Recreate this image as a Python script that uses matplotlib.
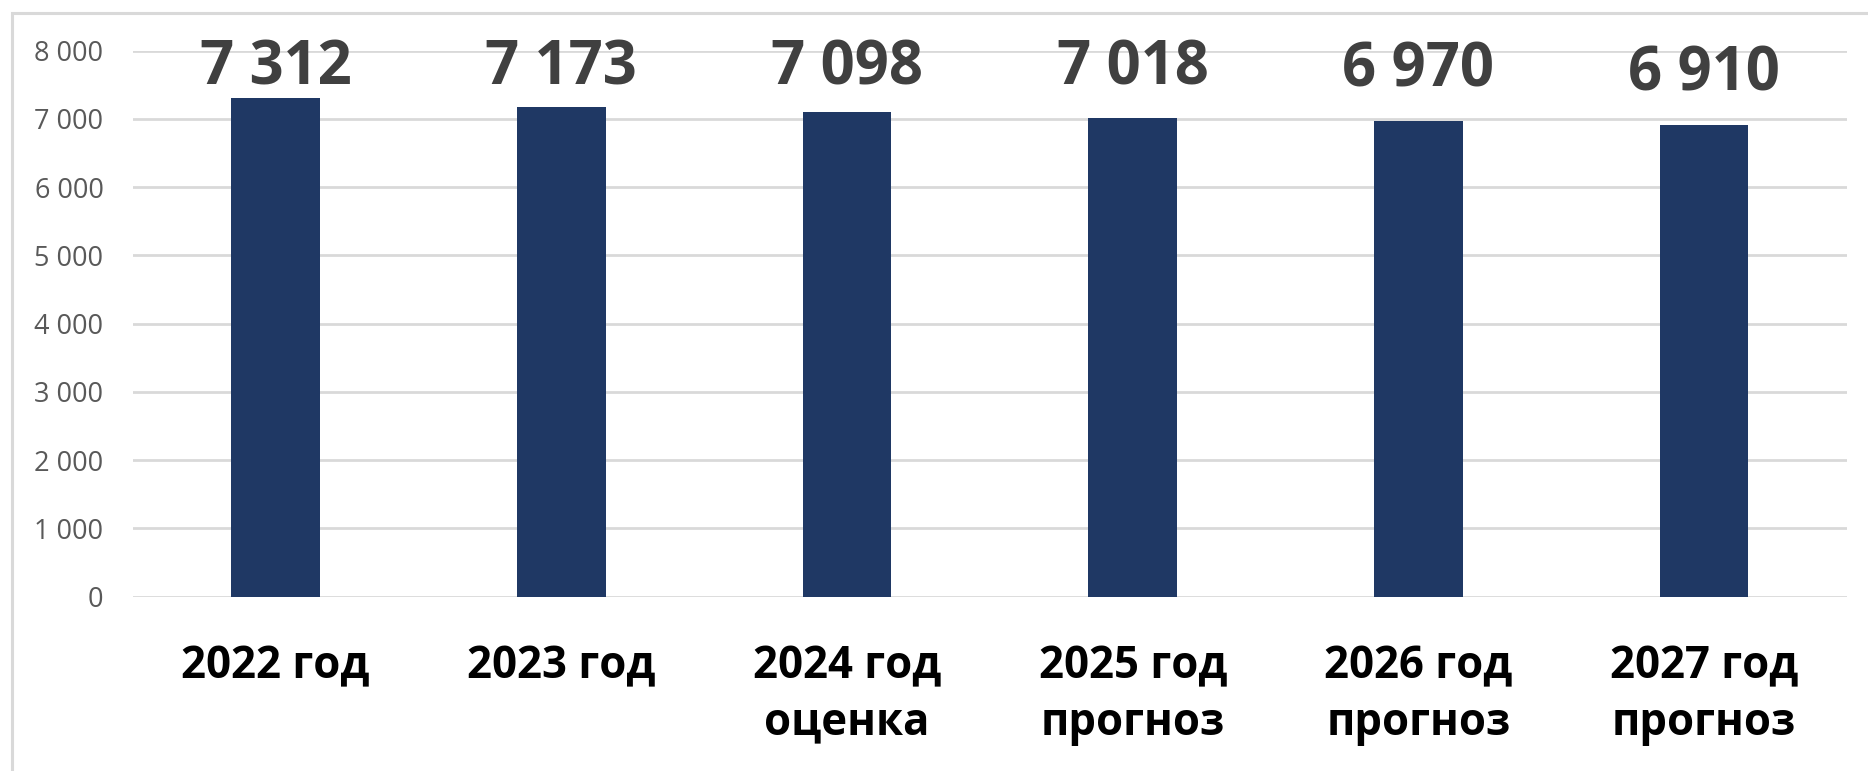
import matplotlib
matplotlib.use("Agg")
import matplotlib.pyplot as plt
from matplotlib.patches import Rectangle

plt.rcParams["font.family"] = ["Open Sans", "DejaVu Sans"]

# Chart data
categories = ["2022 год", "2023 год", "2024 год\nоценка",
              "2025 год\nпрогноз", "2026 год\nпрогноз", "2027 год\nпрогноз"]
values = [7312, 7173, 7098, 7018, 6970, 6910]
yTicks = [0, 1000, 2000, 3000, 4000, 5000, 6000, 7000, 8000]

def fmtThousands(v):
    # Russian style: space as thousands separator
    return f"{v:,}".replace(",", " ")

fig = plt.figure(figsize=(18.68, 7.71), dpi=100)
ax = fig.add_axes([0.0710, 0.2261, 0.9178, 0.7081])

# Light grey frame around the chart (right/bottom edges fall outside the picture)
fig.patches.append(Rectangle((12 / 1868, -0.2), 1.3, 1.2 - 13 / 771 + 0.0,
                             transform=fig.transFigure, fill=False,
                             edgecolor="#d9d9d9", linewidth=2.2))

x = range(len(values))
ax.bar(x, values, width=0.31, color="#1f3864", zorder=3)

# Value labels above bars, clamped near the top of the plot area like Excel does
for i, v in enumerate(values):
    ax.text(i, min(v + 505, 7500), fmtThousands(v), ha="center", va="baseline",
            fontsize=43, fontweight="bold", color="#404040", clip_on=False, zorder=4)

ax.set_xlim(-0.5, len(values) - 0.5)
ax.set_ylim(0, 8000)
ax.set_yticks(yTicks)
ax.set_yticklabels([fmtThousands(t) for t in yTicks], fontsize=19.5, color="#595959")
ax.set_xticks(list(x))
ax.set_xticklabels(categories, fontsize=31.5, fontweight="bold", color="black",
                   linespacing=1.35)

ax.tick_params(axis="y", length=0, pad=21)
ax.tick_params(axis="x", length=0, pad=34)
ax.grid(axis="y", color="#d9d9d9", linewidth=2, zorder=0)
for s in ax.spines.values():
    s.set_visible(False)

fig.savefig("out.png", dpi=100)
